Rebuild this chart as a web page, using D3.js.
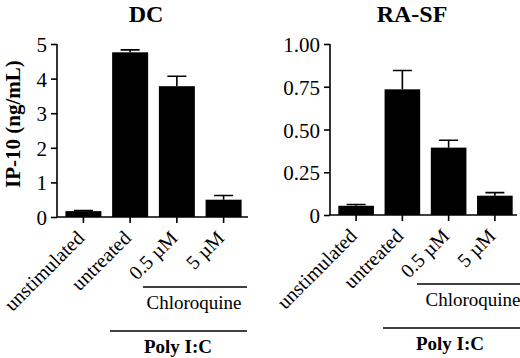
<!DOCTYPE html>
<html>
<head>
<meta charset="utf-8">
<script src="https://cdn.jsdelivr.net/npm/d3@7"></script>
<style>
  body { margin: 0; background: #fff; }
  svg text { font-family: "Liberation Serif", "Times New Roman", serif; fill: #000; }
</style>
</head>
<body>
<div id="vis"></div>
<script>
// categories shared by both panels
const categories = ["unstimulated", "untreated", "0.5 \u00b5M", "5 \u00b5M"]

// DC panel (ng/mL)
const dcValues = [0.17, 4.76, 3.78, 0.5]
const dcErrors = [0.02, 0.07, 0.29, 0.12]
const dcTicks = [0, 1, 2, 3, 4, 5]
const dcTickLabels = ["0", "1", "2", "3", "4", "5"]

// RA-SF panel (ng/mL)
const rasfValues = [0.054, 0.735, 0.394, 0.113]
const rasfErrors = [0.007, 0.11, 0.043, 0.018]
const rasfTicks = [0, 0.25, 0.5, 0.75, 1]
const rasfTickLabels = ["0", "0.25", "0.50", "0.75", "1.00"]

const width = 520
const height = 358

const svg = d3.select("#vis")
  .append("svg")
  .attr("width", width)
  .attr("height", height)

// y axis title
svg.append("text")
  .attr("transform", "translate(20,124) rotate(-90)")
  .attr("text-anchor", "middle")
  .style("font-size", "21px")
  .style("font-weight", "bold")
  .text("IP-10 (ng/mL)")

function drawPanel(opts) {
  const g = svg.append("g")

  const y = d3.scaleLinear()
    .domain(opts.domain)
    .range([opts.bottom, opts.top])

  const x = d3.scaleBand()
    .domain(categories)
    .range([opts.left, opts.right])
    .paddingInner(0.23)
    .paddingOuter(0.18)

  // title
  g.append("text")
    .attr("x", opts.titleX)
    .attr("y", 22)
    .attr("text-anchor", "middle")
    .style("font-size", "24px")
    .style("font-weight", "bold")
    .text(opts.title)

  // bars
  g.selectAll(".bar")
    .data(opts.values)
    .enter()
    .append("rect")
      .attr("x", (d, i) => x(categories[i]))
      .attr("y", d => y(d))
      .attr("width", x.bandwidth())
      .attr("height", d => y(0) - y(d))
      .attr("fill", "#000")

  // error bars
  const capW = 19
  g.selectAll(".err")
    .data(opts.values)
    .enter()
    .append("path")
      .attr("d", (d, i) => {
        const cx = x(categories[i]) + x.bandwidth() / 2
        const ye = y(d + opts.errors[i])
        return "M" + cx + "," + y(d) + "V" + ye + "M" + (cx - capW / 2) + "," + ye + "H" + (cx + capW / 2)
      })
      .attr("stroke", "#000")
      .attr("stroke-width", 1.6)
      .attr("fill", "none")

  // y axis
  const yAxis = d3.axisLeft(y)
    .tickValues(opts.ticks)
    .tickFormat((d, i) => opts.tickLabels[i])
    .tickSize(6)
    .tickPadding(4)
  const ya = g.append("g")
    .attr("transform", "translate(" + opts.left + ",0)")
    .call(yAxis)
  ya.attr("font-family", null)
  ya.select(".domain").attr("d", "M0," + opts.top + "V" + opts.bottom)
  ya.selectAll("line, path").attr("stroke", "#000").attr("stroke-width", 1.6)
  ya.selectAll("text")
    .style("font-size", "21px")
    .attr("dy", "0.36em")

  // x axis
  const xAxis = d3.axisBottom(x).tickSize(6).tickFormat("")
  const xa = g.append("g")
    .attr("transform", "translate(0," + opts.bottom + ")")
    .call(xAxis)
  xa.select(".domain").attr("d", "M" + opts.left + ",0H" + opts.axisEnd)
  xa.selectAll("line, path").attr("stroke", "#000").attr("stroke-width", 1.6)

  // rotated category labels
  g.selectAll(".xlab")
    .data(categories)
    .enter()
    .append("text")
      .attr("transform", d => "translate(" + (x(d) + x.bandwidth() / 2 - 5) + "," + (opts.bottom + 15) + ") rotate(-45)")
      .attr("text-anchor", "end")
      .attr("dy", "0.5em")
      .style("font-size", "20px")
      .text(d => d)

  // treatment brackets
  g.append("line")
    .attr("x1", opts.chloroX1).attr("x2", opts.lineEnd)
    .attr("y1", opts.chloroY).attr("y2", opts.chloroY)
    .attr("stroke", "#000").attr("stroke-width", 1.6)
  g.append("text")
    .attr("x", opts.chloroTextX)
    .attr("y", opts.chloroY + 22)
    .attr("text-anchor", "middle")
    .style("font-size", "19px")
    .text("Chloroquine")

  g.append("line")
    .attr("x1", opts.polyX1).attr("x2", opts.lineEnd)
    .attr("y1", opts.polyY).attr("y2", opts.polyY)
    .attr("stroke", "#000").attr("stroke-width", 1.6)
  g.append("text")
    .attr("x", opts.polyTextX)
    .attr("y", opts.polyY + 22)
    .attr("text-anchor", "middle")
    .style("font-size", "19px")
    .style("font-weight", "bold")
    .text("Poly I:C")
}

drawPanel({
  title: "DC", titleX: 146,
  values: dcValues, errors: dcErrors,
  domain: [0, 5], ticks: dcTicks, tickLabels: dcTickLabels,
  left: 57, right: 250, axisEnd: 248, top: 44, bottom: 217,
  chloroX1: 143, chloroY: 287, chloroTextX: 194,
  polyX1: 110, polyY: 331, polyTextX: 178, lineEnd: 247
})

drawPanel({
  title: "RA-SF", titleX: 412,
  values: rasfValues, errors: rasfErrors,
  domain: [0, 1], ticks: rasfTicks, tickLabels: rasfTickLabels,
  left: 330, right: 521, axisEnd: 517, top: 44, bottom: 215,
  chloroX1: 417, chloroY: 284, chloroTextX: 473,
  polyX1: 383, polyY: 328, polyTextX: 450, lineEnd: 520
})
</script>
</body>
</html>
